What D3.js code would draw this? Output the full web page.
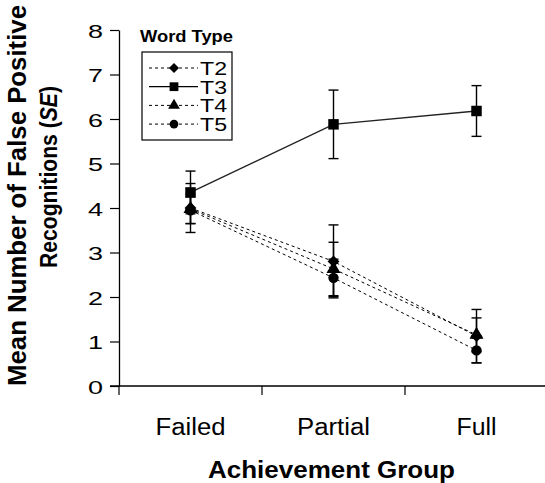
<!DOCTYPE html>
<html>
<head>
<meta charset="utf-8">
<script src="https://cdn.jsdelivr.net/npm/d3@7"></script>
<style>
  body { margin: 0; background: #fff; }
  text { font-family: "Liberation Sans", Arial, sans-serif; fill: #000; }
</style>
</head>
<body>
<svg id="chart" width="545" height="483"></svg>
<script>
const groups = ["Failed", "Partial", "Full"];
const yTicks = [0, 1, 2, 3, 4, 5, 6, 7, 8];

const t2 = [4.0, 2.8, 1.12], t2se = [0.55, 0.82, 0.6];
const t3 = [4.35, 5.88, 6.18], t3se = [0.48, 0.77, 0.57];
const t4 = [3.98, 2.63, 1.15], t4se = [0.33, 0.6, 0.38];
const t5 = [3.95, 2.43, 0.8], t5se = [0.3, 0.42, 0.28];

const series = [
    {key: "T2", values: t2, se: t2se, symbol: d3.symbolDiamond2, size: 90, dash: "3,3"},
    {key: "T3", values: t3, se: t3se, symbol: d3.symbolSquare, size: 110, dash: null},
    {key: "T4", values: t4, se: t4se, symbol: d3.symbolTriangle, size: 85, dash: "3,3"},
    {key: "T5", values: t5, se: t5se, symbol: d3.symbolCircle, size: 85, dash: "3,3"}
];

const svg = d3.select("#chart");

const x = d3.scaleBand().domain(groups).range([119, 548]);
const y = d3.scaleLinear().domain([0, 8]).range([386, 30]);
const cx = g => x(g) + x.bandwidth() / 2;

// y axis
const yAxis = svg.append("g")
    .attr("transform", "translate(119,0)")
    .call(d3.axisLeft(y).tickValues(yTicks).tickSize(9).tickSizeOuter(0).tickPadding(0));
yAxis.select(".domain").attr("stroke", "#000").attr("stroke-width", 1.3);
yAxis.selectAll(".tick line").attr("stroke", "#000").attr("stroke-width", 1.2);
yAxis.selectAll(".tick text").remove();
yAxis.selectAll(".tick").append("text")
    .attr("x", -31).attr("y", 7)
    .attr("text-anchor", "start")
    .attr("font-size", 19)
    .attr("textLength", 15)
    .attr("lengthAdjust", "spacingAndGlyphs")
    .text(d => d);

// x axis
svg.append("line")
    .attr("x1", 110).attr("x2", 545)
    .attr("y1", y(0)).attr("y2", y(0))
    .attr("stroke", "#000").attr("stroke-width", 1.5);
svg.selectAll(".xtick")
    .data(groups)
    .join("line")
    .attr("x1", d => x(d)).attr("x2", d => x(d))
    .attr("y1", y(0)).attr("y2", y(0) + 9)
    .attr("stroke", "#000").attr("stroke-width", 1.2);

const catWidth = {Failed: 70, Partial: 73, Full: 40};
svg.selectAll(".xlabel")
    .data(groups)
    .join("text")
    .attr("x", d => cx(d) - catWidth[d] / 2)
    .attr("y", 435)
    .attr("font-size", 23)
    .attr("textLength", d => catWidth[d])
    .attr("lengthAdjust", "spacingAndGlyphs")
    .text(d => d);

svg.append("text")
    .attr("x", 208).attr("y", 478)
    .attr("font-size", 23).attr("font-weight", "bold")
    .attr("textLength", 247).attr("lengthAdjust", "spacingAndGlyphs")
    .text("Achievement Group");

// y title
const yt = svg.append("g");
yt.append("text")
    .attr("transform", "translate(26,386) rotate(-90)")
    .attr("font-size", 26).attr("font-weight", "bold")
    .attr("textLength", 381).attr("lengthAdjust", "spacingAndGlyphs")
    .text("Mean Number of False Positive");
const yt2 = yt.append("text")
    .attr("transform", "translate(57,268) rotate(-90)")
    .attr("font-size", 24).attr("font-weight", "bold")
    .attr("textLength", 182).attr("lengthAdjust", "spacingAndGlyphs");
yt2.append("tspan").text("Recognitions (");
yt2.append("tspan").attr("font-style", "italic").text("SE");
yt2.append("tspan").text(")");

// lines
const line = d3.line().x((d, i) => cx(groups[i])).y(d => y(d));
svg.selectAll(".series")
    .data(series)
    .join("path")
    .attr("d", s => line(s.values))
    .attr("fill", "none")
    .attr("stroke", s => s.dash ? "#000" : "#222")
    .attr("stroke-width", s => s.dash ? 1 : 1.4)
    .attr("stroke-dasharray", s => s.dash);

// error bars
series.forEach(s => {
    const g = svg.append("g").attr("stroke", "#000").attr("stroke-width", 1.4);
    s.values.forEach((v, i) => {
        const px = cx(groups[i]);
        g.append("line").attr("x1", px).attr("x2", px)
            .attr("y1", y(v + s.se[i])).attr("y2", y(v - s.se[i]));
        [v + s.se[i], v - s.se[i]].forEach(e => {
            g.append("line").attr("x1", px - 5).attr("x2", px + 5)
                .attr("y1", y(e)).attr("y2", y(e));
        });
    });
});

// markers
series.forEach(s => {
    svg.append("g").selectAll("path")
        .data(s.values)
        .join("path")
        .attr("transform", (d, i) => `translate(${cx(groups[i])},${y(d)})`)
        .attr("d", d3.symbol(s.symbol, s.size))
        .attr("fill", "#000");
});

// legend
svg.append("text")
    .attr("x", 140).attr("y", 42)
    .attr("font-size", 17).attr("font-weight", "bold")
    .attr("textLength", 93).attr("lengthAdjust", "spacingAndGlyphs")
    .text("Word Type");
svg.append("rect")
    .attr("x", 142).attr("y", 52).attr("width", 90).attr("height", 88)
    .attr("fill", "#fff").attr("stroke", "#000").attr("stroke-width", 1.2);
const leg = svg.selectAll(".leg")
    .data(series)
    .join("g")
    .attr("transform", (d, i) => `translate(0,${68 + i * 18.7})`);
leg.append("line")
    .attr("x1", 149).attr("x2", 198)
    .attr("stroke", "#000")
    .attr("stroke-width", d => d.dash ? 1 : 1.3)
    .attr("stroke-dasharray", d => d.dash);
leg.append("path")
    .attr("transform", "translate(174,0)")
    .attr("d", d => d3.symbol(d.symbol, d.size * 0.7)());
leg.append("text")
    .attr("x", 200).attr("y", 7)
    .attr("font-size", 18)
    .attr("textLength", 27).attr("lengthAdjust", "spacingAndGlyphs")
    .text(d => d.key);
</script>
</body>
</html>
